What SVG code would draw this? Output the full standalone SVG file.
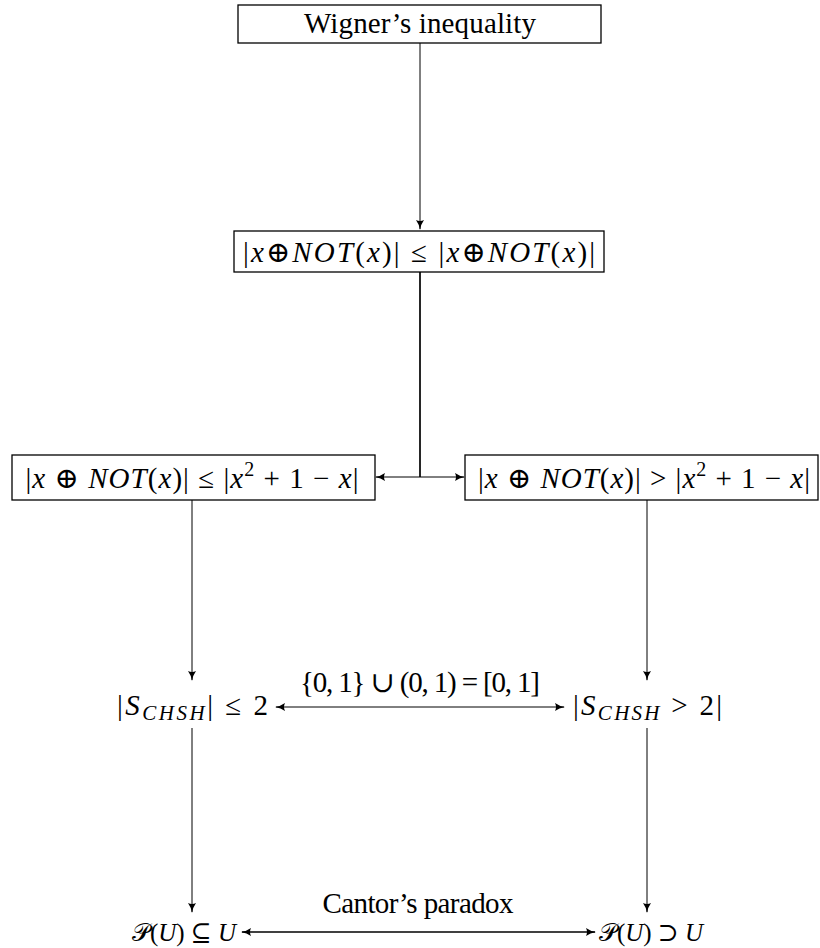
<svg xmlns="http://www.w3.org/2000/svg" width="820" height="948" viewBox="0 0 820 948" font-family="'Liberation Serif', 'Times New Roman', 'DejaVu Serif', serif">
<style>
  text { font-family: "Liberation Serif", "Times New Roman", "DejaVu Serif", serif; font-size: 29px; fill: #000; text-anchor: middle; }
  .i { font-style: italic; }
  .sm { font-size: 25px; }
  .box { fill: #fff; stroke: #000; stroke-width: 1.3; }
  .ln { fill: none; stroke: #000; stroke-width: 1; }
  .th { fill: none; stroke: #000; stroke-width: 1.7; }
</style>
<defs>
  <marker id="ah" viewBox="0 0 10 8" refX="9" refY="4" markerWidth="10" markerHeight="8" markerUnits="userSpaceOnUse" orient="auto-start-reverse">
    <path d="M0,0 Q4,3 10,4 Q4,5 0,8 Q2,4 0,0 z" fill="#000"/>
  </marker>
</defs>
<rect width="820" height="948" fill="#fff"/>
<g id="connectors">
  <line class="ln" x1="420" y1="43" x2="420" y2="229" marker-end="url(#ah)"/>
  <line class="th" x1="420" y1="272" x2="420" y2="477"/>
  <line class="ln" x1="420" y1="477" x2="376" y2="477" marker-end="url(#ah)"/>
  <line class="ln" x1="420" y1="477" x2="464" y2="477" marker-end="url(#ah)"/>
  <line class="ln" x1="192" y1="500" x2="192" y2="680" marker-end="url(#ah)"/>
  <line class="ln" x1="647" y1="500" x2="647" y2="680" marker-end="url(#ah)"/>
  <line class="ln" x1="276" y1="707" x2="564" y2="707" marker-start="url(#ah)" marker-end="url(#ah)"/>
  <line class="ln" x1="192" y1="728" x2="192" y2="912" marker-end="url(#ah)"/>
  <line class="ln" x1="647" y1="728" x2="647" y2="912" marker-end="url(#ah)"/>
  <line class="th" x1="242" y1="932" x2="595" y2="932" marker-start="url(#ah)" marker-end="url(#ah)"/>
  <text x="420" y="692" textLength="240">{0, 1} ∪ (0, 1) = [0, 1]</text>
  <text x="418" y="913" textLength="191">Cantor’s paradox</text>
</g>
<g id="n1">
  <rect class="box" x="238" y="5" width="363" height="38"/>
  <text x="420" y="33" textLength="232">Wigner’s inequality</text>
</g>
<g id="n2">
  <rect class="box" x="234" y="231" width="370" height="41"/>
  <text x="419" y="262" textLength="352">|<tspan class="i">x</tspan>⊕<tspan class="i">NOT</tspan>(<tspan class="i">x</tspan>)| ≤ |<tspan class="i">x</tspan>⊕<tspan class="i">NOT</tspan>(<tspan class="i">x</tspan>)|</text>
</g>
<g id="n3">
  <rect class="box" x="12" y="455" width="363" height="45"/>
  <text x="192" y="488" textLength="333">|<tspan class="i">x</tspan> ⊕ <tspan class="i">NOT</tspan>(<tspan class="i">x</tspan>)| ≤ |<tspan class="i">x</tspan><tspan font-size="20" dy="-12">2</tspan><tspan dy="12"> + 1 − </tspan><tspan class="i">x</tspan>|</text>
</g>
<g id="n4">
  <rect class="box" x="465" y="455" width="353" height="45"/>
  <text x="644" y="488" textLength="332">|<tspan class="i">x</tspan> ⊕ <tspan class="i">NOT</tspan>(<tspan class="i">x</tspan>)| &gt; |<tspan class="i">x</tspan><tspan font-size="20" dy="-12">2</tspan><tspan dy="12"> + 1 − </tspan><tspan class="i">x</tspan>|</text>
</g>
<g id="n5">
  <text x="192.5" y="715" textLength="151">|<tspan class="i">S</tspan><tspan class="i" font-size="21" dy="5">CHSH</tspan><tspan dy="-5">| ≤ 2</tspan></text>
</g>
<g id="n6">
  <text x="647.5" y="715" textLength="149">|<tspan class="i">S</tspan><tspan class="i" font-size="21" dy="5">CHSH</tspan><tspan dy="-5"> &gt; 2|</tspan></text>
</g>
<g id="n7">
  <text class="sm" x="184" y="941">𝒫(<tspan class="i">U</tspan>) ⊆ <tspan class="i">U</tspan></text>
</g>
<g id="n8">
  <text class="sm" x="651" y="941">𝒫(<tspan class="i">U</tspan>) ⊃ <tspan class="i">U</tspan></text>
</g>
</svg>
